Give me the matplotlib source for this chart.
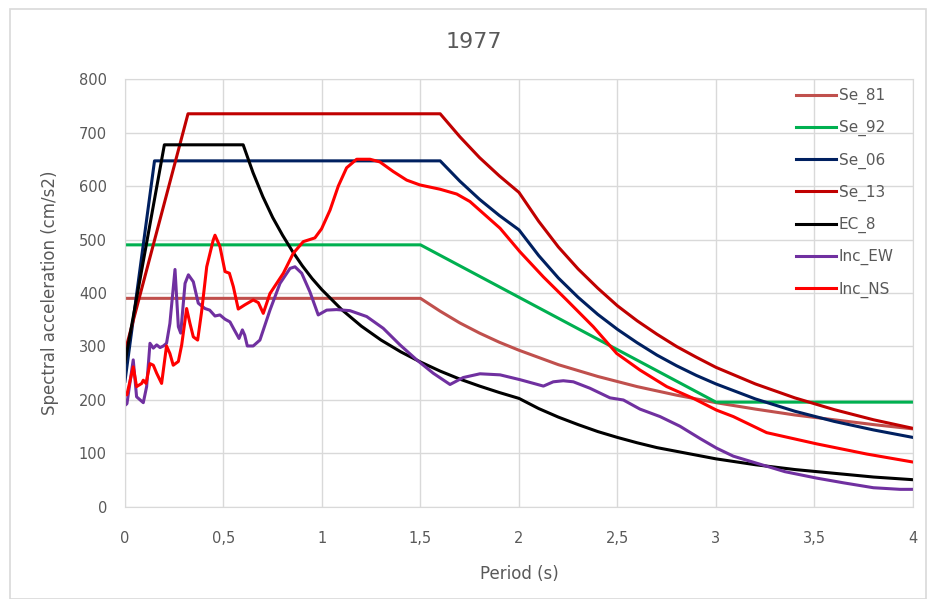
#!/usr/bin/env python3
"""
Response spectra for the 1977 record compared with the code spectra
(Se_81, Se_92, Se_06, Se_13 and EC_8).
"""

import matplotlib.pyplot as plt
import matplotlib.patches as mpatches

TITLE = '1977'

# Code spectra (period in s, spectral acceleration in cm/s2)
se81_t = [0, 1.5, 1.6, 1.7, 1.8, 1.9, 2.0, 2.2, 2.4, 2.6, 2.8, 3.0,
          3.2, 3.4, 3.6, 3.8, 4.0]
se81_sa = [390, 390, 366, 344, 325, 308, 293, 266, 244, 225, 209, 195,
           183, 172, 163, 154, 146]

se92_t = [0, 1.5, 2.0, 2.5, 3.0, 4.0]
se92_sa = [490, 490, 392, 294, 196, 196]

se06_t = [0, 0.15, 1.6, 1.7, 1.8, 1.9, 2.0, 2.1, 2.2, 2.3, 2.4, 2.5,
          2.6, 2.7, 2.8, 2.9, 3.0, 3.2, 3.4, 3.6, 3.8, 4.0]
se06_sa = [235, 647, 647, 609, 575, 545, 518, 470, 428, 392, 360, 332,
           307, 284, 264, 246, 230, 202, 179, 160, 144, 130]

se13_t = [0, 0.32, 1.6, 1.7, 1.8, 1.9, 2.0, 2.1, 2.2, 2.3, 2.4, 2.5,
          2.6, 2.7, 2.8, 2.9, 3.0, 3.2, 3.4, 3.6, 3.8, 4.0]
se13_sa = [290, 735, 735, 692, 653, 619, 588, 534, 486, 445, 409, 376,
           348, 323, 300, 280, 261, 230, 204, 182, 163, 147]

ec8_t = [0, 0.2, 0.6, 0.65, 0.7, 0.75, 0.8, 0.85, 0.9, 0.95, 1.0, 1.1,
         1.2, 1.3, 1.4, 1.5, 1.6, 1.7, 1.8, 1.9, 2.0, 2.1, 2.2, 2.3,
         2.4, 2.5, 2.6, 2.7, 2.8, 2.9, 3.0, 3.2, 3.4, 3.6, 3.8, 4.0]
ec8_sa = [270, 677, 677, 625, 580, 541, 508, 478, 451, 427, 406, 369,
          338, 312, 290, 271, 254, 239, 226, 214, 203, 184, 168, 154,
          141, 130, 120, 111, 104, 97, 90, 79, 70, 63, 56, 51]

# Recorded spectra
ew_t = [0, 0.01, 0.042, 0.059, 0.093, 0.11, 0.127, 0.144, 0.161, 0.178,
        0.195, 0.211, 0.228, 0.254, 0.271, 0.283, 0.305, 0.322, 0.347, 0.372,
        0.406, 0.43, 0.457, 0.482, 0.508, 0.533, 0.555, 0.579, 0.596, 0.608,
        0.621, 0.651, 0.685, 0.736, 0.787, 0.838, 0.863, 0.897, 0.939, 0.981,
        1.024, 1.074, 1.142, 1.227, 1.311, 1.396, 1.481, 1.565, 1.65, 1.717,
        1.802, 1.904, 2.005, 2.124, 2.174, 2.225, 2.276, 2.36, 2.462, 2.53,
        2.614, 2.716, 2.817, 2.919, 3.003, 3.088, 3.223, 3.35, 3.511, 3.65,
        3.799, 3.934, 4.0]
ew_sa = [190, 193, 275, 206, 195, 225, 306, 297, 303, 298,
         301, 306, 343, 444, 337, 325, 418, 434, 421, 381,
         371, 368, 357, 359, 351, 346, 331, 315, 331, 321,
         301, 301, 312, 368, 418, 446, 449, 437, 402, 359,
         368, 369, 367, 356, 334, 303, 275, 250, 229, 242,
         249, 247, 238, 226, 234, 236, 234, 222, 204, 200,
         183, 169, 151, 128, 110, 95, 80, 66, 54, 45,
         36, 33, 33]

ns_t = [0, 0.01, 0.042, 0.059, 0.085, 0.093, 0.107, 0.127, 0.144, 0.161,
        0.186, 0.211, 0.228, 0.245, 0.271, 0.288, 0.313, 0.33, 0.347, 0.369,
        0.389, 0.415, 0.448, 0.457, 0.482, 0.508, 0.53, 0.55, 0.575, 0.609,
        0.651, 0.677, 0.702, 0.736, 0.804, 0.854, 0.905, 0.964, 0.998, 1.041,
        1.083, 1.125, 1.176, 1.244, 1.294, 1.362, 1.43, 1.497, 1.599, 1.684,
        1.751, 1.904, 2.005, 2.124, 2.242, 2.377, 2.496, 2.614, 2.75, 2.885,
        3.003, 3.088, 3.257, 3.511, 3.765, 4.0]
ns_sa = [209, 210, 262, 225, 231, 237, 231, 268, 265, 250,
         231, 301, 287, 265, 272, 303, 371, 343, 318, 312,
         365, 449, 499, 508, 487, 440, 437, 412, 370, 378,
         387, 382, 362, 399, 437, 474, 496, 503, 520, 555,
         600, 634, 650, 650, 645, 627, 611, 602, 594, 585,
         571, 521, 477, 430, 387, 337, 287, 256, 225, 203,
         181, 169, 139, 118, 99, 84]

x_ticks = [0, 0.5, 1, 1.5, 2, 2.5, 3, 3.5, 4]
x_tick_labels = ['0', '0,5', '1', '1,5', '2', '2,5', '3', '3,5', '4']
y_ticks = [0, 100, 200, 300, 400, 500, 600, 700, 800]

TEXT = '#595959'
GRID = '#D9D9D9'

series = [
    ('Se_81', se81_t, se81_sa, '#C0504D'),
    ('Se_92', se92_t, se92_sa, '#00B050'),
    ('Se_06', se06_t, se06_sa, '#002060'),
    ('Se_13', se13_t, se13_sa, '#C00000'),
    ('EC_8', ec8_t, ec8_sa, '#000000'),
    ('Inc_EW', ew_t, ew_sa, '#7030A0'),
    ('Inc_NS', ns_t, ns_sa, '#FF0000'),
]

fig = plt.figure(figsize=(9.27, 5.99), dpi=100)
ax = fig.add_axes([0.1348, 0.1536, 0.8501, 0.7145])

# Chart area border
fig.patches.append(mpatches.Rectangle((0.011, 0.0), 0.988, 0.985, transform=fig.transFigure,
                                      fill=False, edgecolor=GRID, linewidth=1.2))

for name, t, sa, color in series:
    ax.plot(t, sa, color=color, linewidth=2.2, label=name)

ax.set_xlim(0, 4)
ax.set_ylim(0, 800)
ax.set_xticks(x_ticks)
ax.set_xticklabels(x_tick_labels)
ax.set_yticks(y_ticks)
ax.grid(True, color=GRID, linewidth=1.0)
ax.set_axisbelow(True)
for spine in ax.spines.values():
    spine.set_color(GRID)
ax.tick_params(axis='both', length=0, labelsize=10.5, labelcolor=TEXT)
ax.tick_params(axis='x', pad=17)
ax.tick_params(axis='y', pad=13)

ax.set_xlabel('Period (s)', fontsize=12, color=TEXT, labelpad=14)
ax.set_ylabel('Spectral acceleration (cm/s2)', fontsize=12, color=TEXT, labelpad=14)
fig.text(0.511, 0.93, TITLE, fontsize=16, color=TEXT, ha='center', va='center')

leg = ax.legend(loc='upper left', bbox_to_anchor=(796 / 927, 1 - 88 / 599),
                bbox_transform=fig.transFigure, frameon=False, fontsize=11,
                handlelength=2.6, handletextpad=0.2, labelspacing=1.05,
                borderpad=0, borderaxespad=0)
for text in leg.get_texts():
    text.set_color(TEXT)

plt.savefig('out.png', dpi=100)
print("Saved out.png")
plt.close()
